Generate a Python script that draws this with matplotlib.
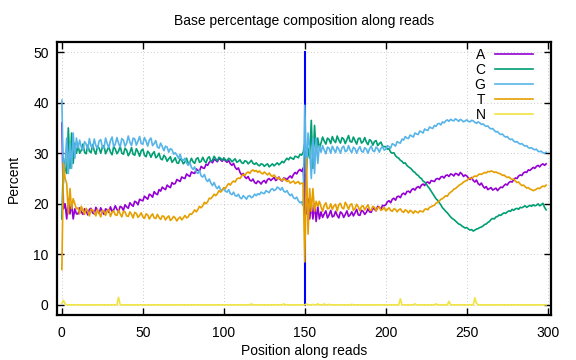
import matplotlib
matplotlib.use("Agg")
import matplotlib.pyplot as plt

plt.rcParams['font.family'] = ['Liberation Sans', 'DejaVu Sans']

# percentage of each base per position (read 1: 0-149, read 2: 150-299)
a_values = [
    36, 19, 20, 17, 21, 18, 20, 17, 19, 18,
    18.0, 19.2, 18.4, 17.9, 19.0, 18.6, 17.8, 18.9, 19.1, 18.2,
    18.0, 19.3, 18.7, 18.1, 19.2, 18.5, 17.9, 19.0, 18.8, 18.3,
    19.4, 18.5, 18.8, 19.6, 18.9, 18.4, 19.5, 19.3, 18.7, 19.8,
    19.4, 19.1, 20.2, 19.8, 19.5, 20.5, 20.3, 19.8, 20.9, 20.7,
    20.6, 21.5, 21.2, 20.9, 21.9, 21.7, 21.3, 22.4, 22.0, 21.8,
    22.8, 22.5, 23.3, 23.0, 22.8, 23.7, 23.4, 23.2, 24.2, 23.9,
    24.0, 24.8, 24.6, 24.4, 25.3, 25.1, 25.0, 25.9, 25.6, 25.4,
    26.3, 26.1, 26.0, 26.9, 26.6, 26.5, 27.4, 27.1, 27.0, 27.8,
    27.6, 28.2, 28.5, 28.1, 28.8, 28.6, 28.3, 29.0, 28.7, 28.4,
    28.9, 28.5, 28.2, 28.6, 27.9, 27.6, 28.0, 27.2, 26.8, 27.1,
    26.2, 25.7, 26.0, 25.3, 25.0, 25.4, 24.7, 24.5, 24.9, 24.2,
    24.0, 24.5, 24.3, 23.9, 24.4, 24.6, 24.1, 24.8, 25.0, 24.6,
    24.9, 25.2, 24.6, 24.8, 25.3, 24.7, 24.5, 25.1, 25.0, 24.8,
    25.2, 25.5, 25.1, 25.8, 26.2, 25.9, 26.5, 26.8, 26.4, 27.1,
    20, 18, 21, 17, 20, 17, 20, 16.5, 19.5, 17,
    18.4, 17.3, 18.0, 18.6, 17.2, 17.8, 18.7, 17.4, 17.6, 18.5,
    17.7, 17.2, 18.4, 18.1, 17.3, 17.9, 18.6, 17.5, 17.8, 18.4,
    17.6, 18.2, 18.9, 17.8, 17.7, 18.7, 18.5, 17.9, 18.3, 19.0,
    18.4, 18.3, 19.2, 18.9, 18.6, 19.5, 19.3, 18.9, 19.7, 19.6,
    19.8, 20.4, 20.6, 20.2, 20.9, 21.1, 20.7, 21.4, 21.5, 21.2,
    21.9, 22.1, 21.8, 22.4, 22.5, 22.2, 22.8, 23.0, 22.7, 23.2,
    23.4, 23.1, 23.7, 23.9, 23.6, 24.2, 24.3, 24.0, 24.6, 24.5,
    24.4, 24.9, 25.0, 24.8, 25.3, 25.4, 25.1, 25.6, 25.7, 25.4,
    25.9, 25.8, 25.5, 26.0, 25.9, 25.6, 26.2, 25.9, 25.4, 25.7,
    25.5, 25.1, 24.8, 25.2, 24.6, 24.3, 24.7, 24.0, 23.7, 24.1,
    23.5, 23.1, 23.4, 22.8, 23.0, 23.2, 22.7, 22.9, 23.1, 22.6,
    23.0, 23.3, 23.2, 23.6, 23.9, 23.7, 24.2, 24.4, 24.3, 24.8,
    25.1, 25.0, 25.5, 25.7, 25.6, 26.1, 26.3, 26.2, 26.7, 26.6,
    26.9, 27.2, 27.0, 27.4, 27.6, 27.3, 27.7, 27.9, 27.6, 27.9,
]

c_values = [
    17, 29, 27, 26, 35, 27, 34, 28, 32, 30,
    31.5, 30.0, 30.6, 31.8, 30.2, 29.9, 31.6, 30.4, 30.1, 31.7,
    30.5, 29.8, 31.4, 31.0, 30.0, 31.2, 31.5, 29.9, 30.6, 31.3,
    30.2, 29.7, 31.3, 30.8, 29.9, 30.4, 31.4, 30.0, 29.8, 31.0,
    30.6, 29.5, 30.1, 31.1, 29.8, 29.6, 30.9, 30.3, 29.4, 30.5,
    30.8, 29.6, 29.3, 30.4, 30.0, 29.2, 29.9, 30.3, 29.1, 29.4,
    30.0, 28.9, 28.7, 29.6, 29.2, 28.4, 28.9, 29.3, 28.2, 28.6,
    29.1, 28.1, 28.0, 28.9, 28.6, 27.9, 28.3, 29.0, 28.0, 28.2,
    29.0, 28.3, 28.0, 28.9, 29.1, 28.2, 28.4, 29.2, 28.5, 28.1,
    29.0, 29.3, 28.4, 28.6, 29.4, 28.9, 28.5, 29.2, 29.0, 28.6,
    29.1, 28.7, 28.5, 29.0, 28.8, 28.3, 28.6, 28.9, 28.2, 28.4,
    28.7, 28.1, 28.0, 28.5, 28.4, 27.9, 28.2, 28.6, 28.0, 27.8,
    28.1, 27.7, 27.5, 27.9, 27.8, 27.4, 27.7, 27.9, 27.3, 27.6,
    27.9, 27.5, 27.8, 28.1, 27.7, 28.0, 28.4, 28.1, 28.6, 29.0,
    28.7, 29.2, 29.0, 28.8, 29.4, 29.3, 29.1, 29.8, 29.6, 30.2,
    32, 27, 31, 29, 36.5, 27, 35.5, 30, 33, 31,
    32.0, 33.2, 32.4, 31.8, 33.0, 32.7, 31.9, 33.3, 32.5, 32.1,
    33.4, 32.6, 32.0, 33.1, 32.8, 31.9, 32.7, 33.5, 32.3, 32.2,
    33.2, 32.5, 31.8, 32.9, 33.0, 32.0, 32.3, 33.1, 32.2, 31.7,
    32.7, 32.4, 31.6, 32.3, 32.5, 31.5, 31.9, 32.2, 31.4, 31.3,
    31.3, 30.8, 30.9, 30.2, 30.0, 30.1, 29.5, 29.2, 29.0, 28.6,
    28.4, 28.0, 28.1, 27.6, 27.3, 27.1, 26.8, 26.4, 26.2, 25.8,
    25.6, 25.2, 25.0, 24.5, 24.3, 23.9, 23.4, 23.0, 22.5, 22.0,
    21.5, 21.0, 20.7, 20.2, 19.8, 19.2, 18.9, 18.5, 18.2, 17.8,
    17.4, 17.1, 16.9, 16.6, 16.3, 16.0, 15.9, 15.6, 15.4, 15.2,
    15.3, 15.0, 14.8, 14.9, 14.6, 14.8, 15.0, 15.1, 15.3, 15.4,
    15.6, 15.9, 16.0, 16.3, 16.5, 16.9, 17.1, 17.0, 17.4, 17.5,
    17.8, 17.7, 18.0, 18.2, 18.1, 18.4, 18.6, 18.5, 18.9, 18.7,
    19.0, 19.1, 18.9, 19.3, 19.2, 19.4, 19.6, 19.3, 19.5, 19.7,
    19.5, 19.8, 19.6, 19.7, 20.0, 19.6, 19.8, 20.1, 19.3, 18.8,
]

g_values = [
    40.5, 24, 28, 33, 26, 32, 27, 34, 29, 33,
    31.0, 32.6, 31.2, 30.6, 32.3, 31.8, 30.7, 32.9, 31.4, 31.0,
    32.8, 31.5, 30.9, 32.4, 32.7, 31.2, 31.0, 33.0, 31.9, 31.1,
    32.5, 33.2, 31.3, 31.8, 33.1, 32.0, 31.2, 32.9, 32.6, 31.4,
    32.0, 33.4, 32.2, 31.5, 33.0, 32.8, 31.6, 32.4, 33.3, 31.9,
    31.8, 33.1, 32.4, 31.4, 32.6, 33.0, 31.5, 31.9, 32.5, 31.2,
    31.0, 32.0, 31.3, 30.5, 31.4, 31.2, 30.2, 30.9, 30.7, 29.8,
    30.1, 29.6, 29.0, 29.8, 28.8, 28.6, 29.0, 28.1, 27.6, 28.2,
    27.2, 26.8, 27.3, 26.3, 26.0, 26.6, 25.5, 25.3, 25.8, 24.8,
    24.4, 24.9, 24.1, 23.6, 24.2, 23.4, 23.0, 23.5, 22.8, 22.6,
    23.1, 22.5, 22.3, 22.8, 22.0, 21.8, 22.3, 21.6, 21.5, 21.9,
    21.2, 21.0, 21.6, 21.3, 20.9, 21.5, 21.6, 21.2, 21.4, 21.9,
    21.6, 22.0, 21.8, 22.3, 22.1, 22.0, 22.6, 22.4, 22.2, 22.8,
    23.0, 22.6, 22.8, 23.3, 23.1, 22.7, 23.2, 22.5, 22.3, 22.6,
    22.0, 21.6, 21.9, 21.2, 21.0, 21.3, 20.6, 20.2, 20.4, 19.6,
    39.5, 26, 34, 31, 25, 33, 26, 33, 28, 31.5,
    30.2, 31.5, 30.6, 29.9, 31.2, 31.0, 30.0, 31.4, 30.7, 30.1,
    31.3, 30.8, 30.0, 31.1, 31.4, 30.3, 30.5, 31.5, 30.6, 30.1,
    31.2, 30.9, 30.0, 30.8, 31.3, 30.4, 30.2, 31.1, 30.8, 30.0,
    30.9, 31.4, 30.5, 30.3, 31.2, 30.9, 30.2, 31.0, 31.3, 30.6,
    30.8, 31.5, 31.3, 31.0, 31.9, 31.7, 31.4, 32.3, 32.1, 32.0,
    32.8, 32.6, 33.3, 33.0, 32.9, 33.6, 33.4, 33.2, 34.0, 33.8,
    33.7, 34.4, 34.2, 34.0, 34.8, 34.6, 34.5, 35.2, 35.0, 34.9,
    35.5, 35.3, 35.8, 35.9, 35.6, 36.2, 36.0, 36.4, 36.6, 36.3,
    36.7, 36.5, 36.4, 36.8, 36.6, 36.3, 36.7, 36.5, 36.2, 36.4,
    36.6, 36.3, 36.2, 36.5, 36.4, 36.1, 35.9, 36.2, 36.0, 35.7,
    35.8, 35.5, 35.3, 35.4, 35.0, 34.8, 34.9, 34.5, 34.2, 34.3,
    33.9, 33.7, 33.8, 33.4, 33.2, 33.3, 32.9, 32.7, 32.8, 32.4,
    32.2, 32.3, 32.0, 31.8, 31.9, 31.6, 31.4, 31.5, 31.1, 31.0,
    31.1, 30.8, 30.7, 30.8, 30.4, 30.3, 30.4, 30.1, 30.0, 30.2,
]

t_values = [
    7, 28, 25, 24, 18, 23, 19, 21, 20, 19,
    19.2, 18.0, 19.5, 18.7, 17.9, 19.1, 18.5, 17.6, 18.9, 18.8,
    18.3, 17.6, 18.9, 18.2, 17.4, 18.7, 18.5, 17.7, 18.6, 18.9,
    17.5, 18.3, 18.6, 17.8, 17.7, 18.8, 18.0, 17.4, 18.5, 18.4,
    17.6, 17.5, 18.4, 17.9, 17.2, 18.3, 18.1, 17.3, 17.7, 18.2,
    17.4, 17.1, 18.0, 17.8, 17.0, 17.6, 18.0, 17.2, 17.1, 17.9,
    17.3, 16.9, 17.6, 17.5, 16.8, 17.3, 17.6, 16.7, 17.0, 17.5,
    17.2, 16.6, 17.1, 17.4, 16.8, 17.2, 17.7, 17.2, 17.4, 18.0,
    17.9, 18.3, 18.8, 18.4, 18.9, 19.5, 19.2, 19.6, 20.3, 20.0,
    20.4, 21.1, 21.0, 21.4, 21.9, 21.6, 22.0, 22.6, 22.3, 22.7,
    23.2, 23.0, 23.6, 24.0, 23.7, 24.2, 24.5, 24.3, 24.9, 25.1,
    25.0, 25.5, 25.8, 25.6, 26.1, 26.3, 26.0, 26.5, 26.7, 26.4,
    26.6, 26.2, 26.5, 26.1, 25.9, 26.3, 26.0, 25.7, 26.1, 25.6,
    25.4, 25.7, 25.3, 24.9, 25.2, 24.8, 24.6, 25.0, 24.7, 24.4,
    24.6, 24.1, 24.3, 24.5, 24.0, 24.2, 24.4, 23.9, 24.1, 24.0,
    8.5, 29, 14, 23, 18.5, 23, 18.5, 20.5, 19.5, 20.5,
    19.4, 18.5, 19.7, 20.2, 19.0, 19.1, 20.0, 18.9, 19.6, 19.9,
    18.6, 19.8, 20.1, 19.2, 19.0, 20.3, 19.7, 18.9, 19.8, 20.0,
    18.7, 19.1, 19.9, 19.4, 18.6, 19.5, 19.6, 18.8, 19.3, 19.8,
    18.8, 18.7, 19.5, 19.3, 18.6, 19.2, 19.4, 18.7, 18.9, 19.3,
    18.6, 18.9, 19.2, 18.7, 18.5, 19.0, 18.9, 18.4, 18.8, 19.0,
    18.5, 18.3, 18.8, 18.6, 18.2, 18.7, 18.5, 18.1, 18.6, 18.4,
    18.2, 18.6, 18.5, 18.4, 18.9, 19.0, 18.8, 19.3, 19.4, 19.6,
    19.7, 20.1, 20.3, 20.5, 20.9, 21.0, 21.3, 21.6, 21.5, 22.0,
    22.3, 22.5, 22.9, 23.0, 23.3, 23.6, 23.8, 24.0, 24.3, 24.5,
    24.6, 24.9, 25.1, 25.0, 25.3, 25.5, 25.4, 25.7, 25.9, 25.8,
    26.0, 26.2, 26.1, 26.4, 26.3, 26.5, 26.4, 26.2, 26.3, 26.1,
    26.0, 25.9, 25.6, 25.7, 25.4, 25.2, 25.3, 25.0, 24.8, 24.9,
    24.5, 24.2, 24.3, 23.9, 23.6, 23.7, 23.4, 23.1, 23.2, 22.9,
    22.8, 22.6, 22.7, 22.9, 23.1, 23.0, 23.3, 23.5, 23.4, 23.7,
]

# N is zero almost everywhere; only the non-zero positions are listed
n_nonzero = {0: 0.3, 1: 0.9, 2: 0.2, 35: 1.5, 117: 0.2, 137: 0.2,
             151: 0.2, 155: 0.1, 158: 0.2, 162: 0.2, 165: 0.1, 179: 0.1,
             209: 1.2, 218: 0.2, 231: 0.2, 239: 0.7, 255: 1.4, 256: 0.3}

positions = list(range(300))
n_values = [n_nonzero.get(p, 0.0) for p in positions]

series = [("A", a_values, "#9400d3"),
          ("C", c_values, "#009e73"),
          ("G", g_values, "#56b4e9"),
          ("T", t_values, "#e69f00"),
          ("N", n_values, "#f0e442")]

fig = plt.figure(figsize=(5.76, 3.6), dpi=100)
ax = fig.add_axes([57/576, 1 - 315/360, 494/576, 273/360])

# read boundary, under the data lines
ax.plot([150, 150], [0, 50], color="blue", lw=1.5, zorder=1.8)

for name, vals, col in series:
    ax.plot(positions, vals, color=col, lw=1.2, label=name, zorder=2)

ax.set_xlim(-3, 302)
ax.set_ylim(-2, 52)
ax.set_xticks(range(0, 301, 50))
ax.set_yticks(range(0, 51, 10))
ax.tick_params(direction="in", top=True, right=True, length=5, width=1,
               labelsize=10, pad=6)
ax.tick_params(axis="x", pad=8)
for sp in ax.spines.values():
    sp.set_linewidth(1.6)
ax.grid(True, color="#b8b8b8", lw=0.6, linestyle=(0, (1, 3)))
ax.set_axisbelow(True)

ax.set_title("Base percentage composition along reads", fontsize=10, pad=12)
ax.set_xlabel("Position along reads", fontsize=10, labelpad=3)
ax.set_ylabel("Percent", fontsize=10, labelpad=9)

leg = ax.legend(loc="upper right", bbox_to_anchor=(0.98, 1.01), frameon=False,
                markerfirst=False, fontsize=10, handlelength=2.7,
                labelspacing=0.08, handletextpad=0.7, borderaxespad=0.2)
for txt in leg.get_texts():
    txt.set_ha("right")

fig.savefig("out.png", dpi=100)
